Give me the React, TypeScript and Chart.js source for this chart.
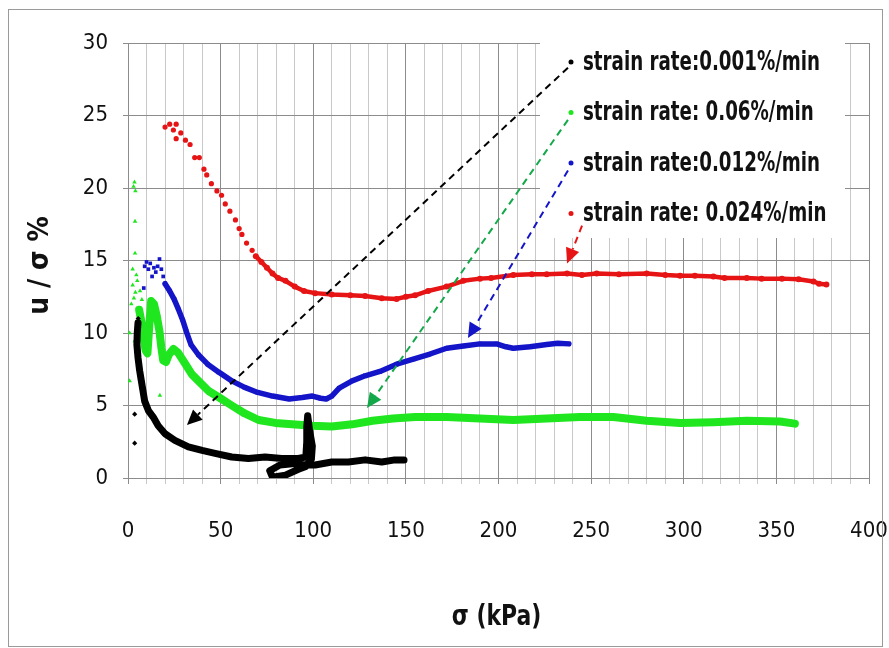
import React, { useEffect, useRef } from 'react';
import { Chart, registerables } from 'chart.js';

Chart.register(...registerables);

const FONT = "'Liberation Sans Narrow', 'DejaVu Sans Condensed', 'Arial Narrow', sans-serif";

// ---------- data ----------
const seriesNames = [
  'strain rate:0.001%/min',
  'strain rate: 0.06%/min',
  'strain rate:0.012%/min',
  'strain rate: 0.024%/min',
];
const seriesColors = ['#000000', '#1fe61f', '#1414c8', '#e61414'];
const seriesMarkers = ['rectRot', 'triangle', 'rect', 'circle'];

const xLabelValues = [0, 50, 100, 150, 200, 250, 300, 350, 400];
const yLabelValues = [0, 5, 10, 15, 20, 25, 30];

// 0.001%/min (black)
const blackDots: [number, number][] = [
  [3.6, 4.4], [3.6, 2.4], [5.5, 11.0], [5.2, 10.3], [4.8, 9.6],
];
const blackBand: [number, number][] = [
  [5.4, 10.7], [5, 10.0], [4.8, 9.2], [5.4, 8.3], [6.3, 7.4], [7.2, 6.7], [8.1, 6.0], [9, 5.3],
  [11, 4.65], [13.6, 4.2], [16.3, 3.6], [20, 3.05], [25.3, 2.6], [32.6, 2.15], [40, 1.9],
  [47, 1.7], [56, 1.45], [65, 1.35], [74, 1.45], [83, 1.35], [92, 1.35], [96, 1.45],
  [96.5, 2.5], [96.5, 3.5], [97, 4.3], [98, 3.3], [99.5, 2.2], [99, 1.3], [96, 0.8],
  [92, 0.6], [85, 0.2], [78, 0.05], [76.5, 0.5], [82, 0.9], [90, 1.0], [96, 0.9],
  [101, 0.9], [110, 1.1], [119, 1.1], [128, 1.25], [137, 1.1], [144, 1.25], [149, 1.25],
];

// 0.06%/min (green)
const greenDots: [number, number][] = [
  [3, 20.1], [3.5, 20.4], [4, 19.8], [3.8, 17.7], [3.8, 15.5], [2.5, 14.4], [4.5, 14.0],
  [1.8, 12.0], [0.9, 10.0], [0.9, 6.7], [3.6, 9.45], [2.5, 13.3], [17.2, 5.7], [17.2, 3.6],
  [4, 12.8], [5, 13.6], [3.2, 12.4], [6.5, 12.9], [7.5, 12.3],
];
const greenBand: [number, number][] = [
  [6, 11.6], [7.5, 10.6], [8.5, 9.6], [9.5, 8.8], [10.5, 8.6], [11.5, 10.5],
  [12.5, 12.2], [14, 12.0], [15.5, 11.2], [17, 10.1], [18, 9.0], [19, 8.1], [20.5, 8.0],
  [22, 8.5], [24.5, 8.9], [27, 8.65], [31, 7.85], [34.5, 7.15], [38, 6.7], [43.5, 6.0],
  [50.5, 5.45], [56, 5.0], [63, 4.45], [70.5, 4.0], [79.5, 3.8], [88.5, 3.7], [99.5, 3.6],
  [110, 3.55], [121, 3.7], [132, 3.95], [143, 4.1], [155, 4.2], [172, 4.2], [190, 4.1],
  [208, 4.0], [226, 4.1], [244, 4.2], [262, 4.2], [280, 3.95], [298, 3.8], [316, 3.85],
  [334, 3.95], [352, 3.9], [360, 3.75],
];

// 0.012%/min (blue)
const blueDots: [number, number][] = [
  [6, 10.6], [7, 11.3], [8.5, 13.1], [9, 14.6], [10, 14.9], [11, 14.4], [12, 14.8],
  [13, 13.9], [14, 14.5], [15, 14.2], [16, 14.6], [17, 15.1], [18, 14.4], [19, 13.9],
];
const blueBand: [number, number][] = [
  [20, 13.4], [22.5, 12.9], [25, 12.3], [27, 11.7], [29.5, 10.9], [31.5, 10.1], [34, 9.2],
  [38, 8.5], [43, 7.85], [49, 7.3], [56, 6.7], [63, 6.25], [70, 5.9], [78, 5.65], [87, 5.45],
  [94, 5.55], [99.5, 5.65], [104, 5.5], [107, 5.45], [110, 5.65], [114, 6.2], [121, 6.7],
  [128, 7.05], [136, 7.35], [145, 7.85], [154, 8.2], [163, 8.55], [172, 8.95], [181, 9.1],
  [190, 9.25], [199, 9.25], [204, 9.05], [208, 8.95], [217, 9.05], [226, 9.2], [232, 9.3],
  [238, 9.25],
];

// 0.024%/min (red)
const redDots: [number, number][] = [
  [20, 24.2], [22.5, 24.4], [24.5, 24.0], [26, 24.4], [26, 23.4], [28.5, 23.8], [31, 23.3],
  [33.5, 23.0], [36, 22.1], [38.5, 22.1], [41, 21.3], [42.5, 20.9], [45, 20.3], [48, 19.8],
  [50.5, 19.5], [52.5, 18.9], [55, 18.4], [58, 17.8], [60, 17.2], [61.5, 16.8], [64, 16.2],
  [67, 15.7],
];
const redBand: [number, number][] = [
  [69, 15.3], [72, 14.9], [75, 14.5], [78, 14.1], [81, 13.8], [85, 13.6], [90, 13.2],
  [95, 12.9], [101, 12.75], [110, 12.65], [120, 12.6], [128, 12.55], [137, 12.4], [145, 12.35],
  [150, 12.5], [155, 12.6], [162, 12.9], [172, 13.2], [181, 13.6], [190, 13.75], [196, 13.8],
  [208, 14.0], [218, 14.05], [226, 14.05], [237, 14.1], [245, 14.0], [253, 14.1], [265, 14.05],
  [280, 14.1], [290, 14.0], [298, 13.95], [306, 13.95], [316, 13.9], [322, 13.8], [334, 13.8],
  [342, 13.75], [353, 13.75], [362, 13.7], [370, 13.55], [373, 13.4], [377, 13.35],
];

// annotation arrows (data coordinates): [x0, y0, x1, y1]
const arrows: [number, number, number, number][] = [
  [237.5, 28.3, 31.8, 3.66],
  [237.5, 24.7, 129.0, 4.83],
  [237.5, 21.2, 183.5, 9.66],
  [245.1, 17.4, 237.0, 14.8],
];

const bands = [blackBand, greenBand, blueBand, redBand];
const dots = [blackDots, greenDots, blueDots, redDots];
const bandWidths = [7, 8, 5.5, 4.5];

const toPts = (a: [number, number][]) => a.map(([x, y]) => ({ x, y }));

const bgPlugin = {
  id: 'bg',
  beforeDraw(chart: any) {
    const { ctx, width, height } = chart;
    ctx.save();
    ctx.fillStyle = '#ffffff';
    ctx.fillRect(0, 0, width, height);
    ctx.restore();
  },
  afterDraw(chart: any) {
    const { ctx } = chart;
    ctx.save();
    ctx.strokeStyle = '#9a9a9a';
    ctx.lineWidth = 1;
    ctx.strokeRect(8.5, 9.5, 874, 637);
    ctx.restore();
  },
};

function scaledText(ctx: any, text: string, x: number, y: number, sx: number) {
  ctx.save();
  ctx.translate(x, y);
  ctx.scale(sx, 1);
  ctx.fillText(text, 0, 0);
  ctx.restore();
}

const overlayPlugin = {
  id: 'overlay',
  afterDatasetsDraw(chart: any) {
    const { ctx, chartArea: ca, scales } = chart;
    const xs = scales.x;
    const ys = scales.y;
    ctx.save();
    // legend box
    const lx = ca.right - 329;
    const ly = ca.top - 4;
    ctx.fillStyle = '#ffffff';
    ctx.fillRect(lx, ly, 305, 199);
    ctx.font = `bold 26px ${FONT}`;
    ctx.textBaseline = 'middle';
    ctx.textAlign = 'left';
    for (let i = 0; i < seriesNames.length; i++) {
      const cy = ly + 23 + i * 50.5;
      ctx.fillStyle = seriesColors[i];
      ctx.beginPath();
      ctx.arc(lx + 31, cy, 2.5, 0, Math.PI * 2);
      ctx.fill();
      ctx.fillStyle = '#111111';
      scaledText(ctx, seriesNames[i], lx + 43, cy + 1, 0.78);
    }
    // arrows
    for (let i = 0; i < arrows.length; i++) {
      const [a, b, c, d] = arrows[i];
      const x0 = xs.getPixelForValue(a);
      const y0 = ys.getPixelForValue(b);
      const x1 = xs.getPixelForValue(c);
      const y1 = ys.getPixelForValue(d);
      const ang = Math.atan2(y1 - y0, x1 - x0);
      const L = 15;
      const W = 7;
      const bx = x1 - L * Math.cos(ang);
      const by = y1 - L * Math.sin(ang);
      ctx.strokeStyle = seriesColors[i] === '#1fe61f' ? '#13a84a' : seriesColors[i];
      ctx.fillStyle = ctx.strokeStyle;
      ctx.lineWidth = 2;
      ctx.setLineDash([7, 5]);
      ctx.beginPath();
      ctx.moveTo(x0, y0);
      ctx.lineTo(bx, by);
      ctx.stroke();
      ctx.setLineDash([]);
      ctx.beginPath();
      ctx.moveTo(x1, y1);
      ctx.lineTo(bx + W * Math.sin(ang), by - W * Math.cos(ang));
      ctx.lineTo(bx - W * Math.sin(ang), by + W * Math.cos(ang));
      ctx.closePath();
      ctx.fill();
    }
    // axis titles
    ctx.fillStyle = '#111111';
    ctx.font = `bold 28px ${FONT}`;
    ctx.textAlign = 'center';
    ctx.textBaseline = 'middle';
    scaledText(ctx, 'σ (kPa)', (ca.left + ca.right) / 2 - 2, 618, 0.87);
    ctx.translate(41, (ca.top + ca.bottom) / 2 + 5);
    ctx.rotate(-Math.PI / 2);
    ctx.fillText('u / σ %', 0, 0);
    ctx.restore();
  },
};

export default function App() {
  const ref = useRef<HTMLCanvasElement>(null);
  useEffect(() => {
    document.body.style.margin = '0';
    const canvas = ref.current;
    if (!canvas) return;
    const datasets: any[] = [];
    for (let i = 0; i < 4; i++) {
      datasets.push({
        label: seriesNames[i],
        data: toPts(bands[i]),
        showLine: true,
        borderColor: seriesColors[i],
        backgroundColor: seriesColors[i],
        borderWidth: bandWidths[i],
        borderJoinStyle: 'round',
        borderCapStyle: 'round',
        pointStyle: seriesMarkers[i],
        pointRadius: 3,
        pointBorderWidth: 0,
      });
      datasets.push({
        label: seriesNames[i] + ' ',
        data: toPts(dots[i]),
        showLine: false,
        borderColor: seriesColors[i],
        backgroundColor: seriesColors[i],
        pointStyle: seriesMarkers[i],
        pointRadius: 2.6,
        pointBorderWidth: 0,
      });
    }
    const chart = new Chart(canvas, {
      type: 'scatter',
      data: { datasets },
      options: {
        animation: false,
        responsive: false,
        devicePixelRatio: 1,
        layout: { padding: { left: 0, right: 20, top: 43, bottom: 0 } },
        plugins: { legend: { display: false }, tooltip: { enabled: false } },
        scales: {
          x: {
            type: 'linear',
            min: 0,
            max: 400,
            afterFit: (s: any) => {
              s.height = 170;
              s.paddingRight = 0;
              s.paddingLeft = 0;
            },
            ticks: {
              stepSize: 10,
              autoSkip: false,
              maxRotation: 0,
              padding: 34,
              color: '#111111',
              font: { family: FONT, size: 22 },
              callback: (v: any) => (xLabelValues.includes(Number(v)) ? String(v) : ''),
            },
            grid: {
              color: (c: any) => (c.tick && c.tick.value % 50 === 0 ? '#8c8c8c' : '#c8c8c8'),
              tickLength: 6,
            },
            border: { color: '#8c8c8c' },
          },
          y: {
            type: 'linear',
            min: 0,
            max: 30,
            afterFit: (s: any) => {
              s.width = 128;
              s.paddingTop = 0;
              s.paddingBottom = 0;
            },
            ticks: {
              stepSize: 5,
              padding: 15,
              color: '#111111',
              font: { family: FONT, size: 22 },
              callback: (v: any) => (yLabelValues.includes(Number(v)) ? String(v) : ''),
            },
            grid: { color: '#8c8c8c', tickLength: 5 },
            border: { color: '#8c8c8c' },
          },
        },
      },
      plugins: [bgPlugin, overlayPlugin],
    });
    return () => chart.destroy();
  }, []);
  return (
    <div style={{ width: 889, height: 648 }}>
      <canvas ref={ref} width={889} height={648} style={{ display: 'block' }} />
    </div>
  );
}
